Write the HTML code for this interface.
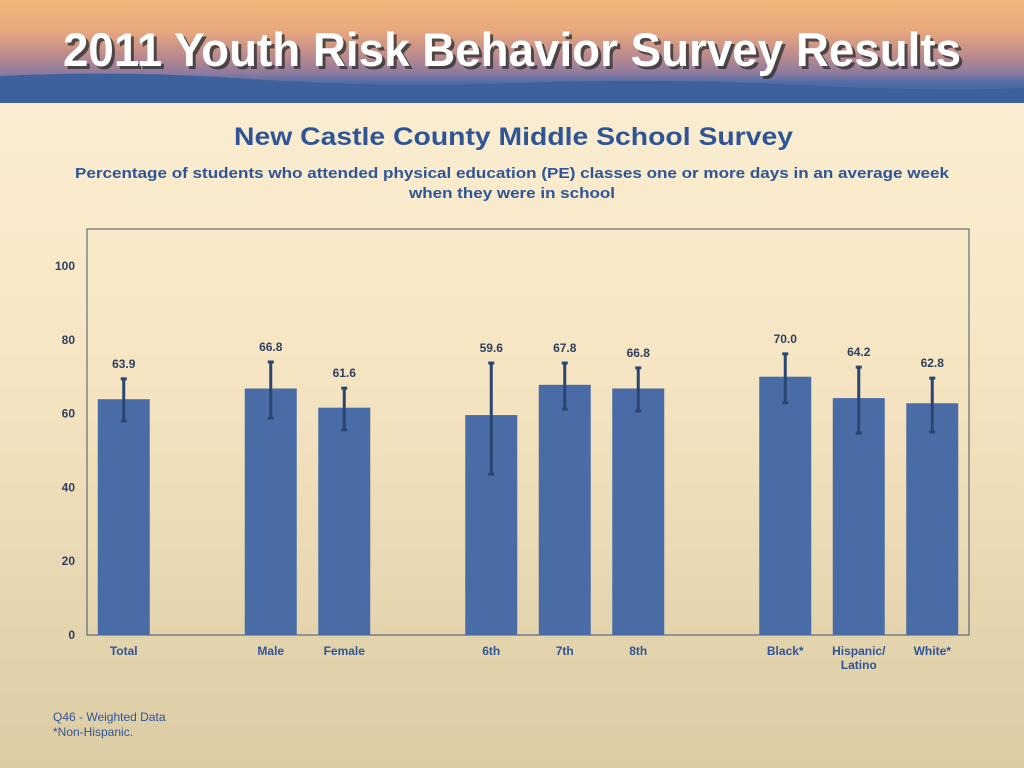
<!DOCTYPE html>
<html><head><meta charset="utf-8"><style>
html,body{margin:0;padding:0}
body{width:1024px;height:768px;overflow:hidden;font-family:"Liberation Sans",Arial,sans-serif;background:linear-gradient(#fcf0d6 0%,#f6e6c4 45%,#dccca4 100%)}
</style></head><body>
<svg width="1024" height="768" style="position:absolute;left:0;top:0">
<defs>
<linearGradient id="hdr" x1="0" y1="0" x2="0" y2="1">
<stop offset="0" stop-color="#f2b87a"/><stop offset="0.3" stop-color="#e8a87e"/><stop offset="0.55" stop-color="#b98a8e"/><stop offset="0.72" stop-color="#8a7aa0"/><stop offset="0.8" stop-color="#4f6ea8"/><stop offset="1" stop-color="#3b5f9a"/>
</linearGradient>
</defs>
<g>
<rect x="0" y="0" width="1024" height="103" fill="url(#hdr)"/>
<path d="M0 76 Q120 70 250 79 T520 83 T800 85 T1024 88 L1024 103 L0 103Z" fill="#3d619c"/>
<text x="66" y="69" font-size="47" font-weight="bold" fill="#333" textLength="898" lengthAdjust="spacingAndGlyphs" opacity="0.8">2011 Youth Risk Behavior Survey Results</text>
<text x="63" y="66" font-size="47" font-weight="bold" fill="#fff" textLength="898" lengthAdjust="spacingAndGlyphs">2011 Youth Risk Behavior Survey Results</text>
</g>
<text x="234" y="145" font-size="25" font-weight="bold" fill="#2f5597" textLength="559" lengthAdjust="spacingAndGlyphs">New Castle County Middle School Survey</text>
<text x="75" y="178" font-size="15" font-weight="bold" fill="#2f5597" textLength="874" lengthAdjust="spacingAndGlyphs">Percentage of students who attended physical education (PE) classes one or more days in an average week</text>
<text x="409" y="198" font-size="15" font-weight="bold" fill="#2f5597" textLength="206" lengthAdjust="spacingAndGlyphs">when they were in school</text>
<rect x="87" y="229" width="882" height="406" fill="none" stroke="#44546a" stroke-width="1"/>
<g id="chart"></g>
<text x="53" y="721" font-size="12" fill="#2f5597">Q46 - Weighted Data</text>
<text x="53" y="736" font-size="12" fill="#2f5597">*Non-Hispanic.</text>
</svg>
<script>
const categories=["Total","","Male","Female","","6th","7th","8th","","Black*","Hispanic/\nLatino","White*"];
const values=[63.9,null,66.8,61.6,null,59.6,67.8,66.8,null,70.0,64.2,62.8];
const errHigh=[69.4,null,74.0,66.9,null,73.7,73.7,72.4,null,76.2,72.6,69.6];
const errLow=[58.0,null,58.8,55.6,null,43.6,61.2,60.7,null,62.9,54.7,55.0];
const yTicks=[0,20,40,60,80,100];
const NS="http://www.w3.org/2000/svg";
const g=document.getElementById('chart');
const x0=87,x1=969,slot=(x1-x0)/categories.length;
const y=v=>635-v*3.69;
const xc=i=>x0+slot*(i+0.5);
function mk(t,a,txt){const e=document.createElementNS(NS,t);for(const k in a)e.setAttribute(k,a[k]);if(txt!=null)e.textContent=txt;g.appendChild(e);return e;}
yTicks.forEach(t=>{const e=mk('text',{x:75,y:y(t)+4,'text-anchor':'end','font-size':12,'font-weight':'bold',fill:'#2f3f5f'},t);

});
categories.forEach((c,i)=>{
 if(values[i]==null)return;
 const cx=xc(i),w=52;
 const b=mk('rect',{x:cx-w/2,y:y(values[i]),width:w,height:y(0)-y(values[i]),fill:'#4a6ca6'});
 
 
 const eb=mk('path',{d:`M${cx} ${y(errHigh[i])}V${y(errLow[i])}M${cx-3} ${y(errHigh[i])}H${cx+3}M${cx-3} ${y(errLow[i])}H${cx+3}`,stroke:'#2a4570','stroke-width':3,fill:'none'});
 
 
 const l=mk('text',{x:cx,y:y(errHigh[i])-11,'text-anchor':'middle','font-size':12,'font-weight':'bold',fill:'#2f3f5f'},values[i].toFixed(1));
 
 
 c.split('\n').forEach((ln,j)=>{const t=mk('text',{x:cx,y:655+j*14,'text-anchor':'middle','font-size':12,'font-weight':'bold',fill:'#2f5597'},ln);
 
 });
});
</script>
</body></html>
